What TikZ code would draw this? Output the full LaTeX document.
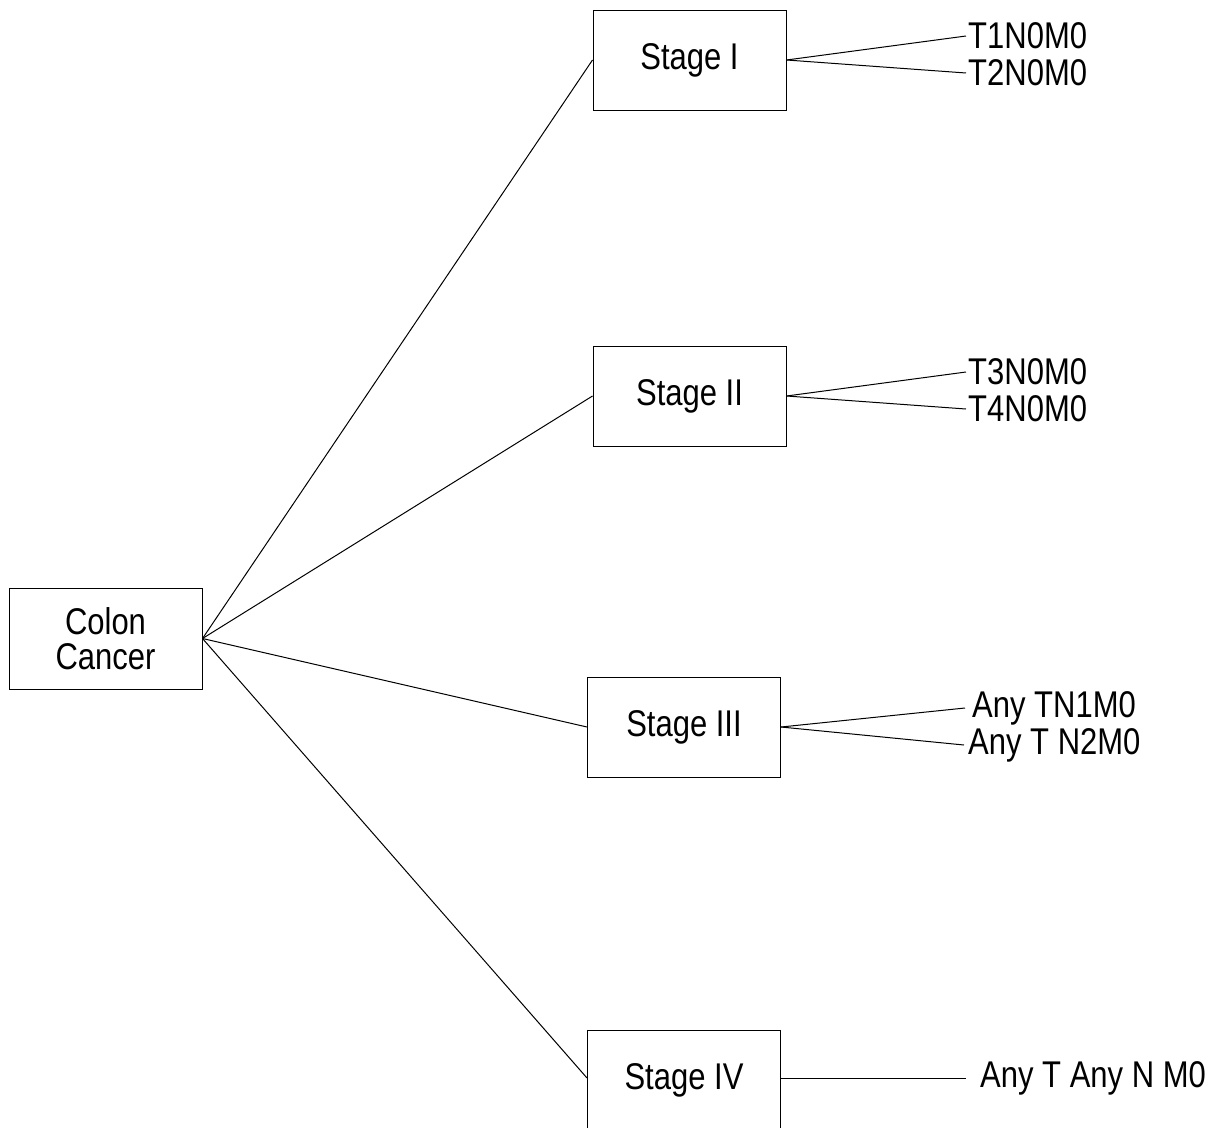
\documentclass[tikz,border=0pt]{standalone}
\usepackage{fontspec}
\setmainfont{Liberation Sans}
\usepackage{tikz}
\usetikzlibrary{positioning}
\tikzstyle{stagebox} = [draw, rectangle, line width=1pt, minimum width=193pt,
minimum height=100pt, align=center]
\tikzstyle{line} = [draw, line width=1pt]
\tikzstyle{leaf} = [inner sep=2pt, anchor=west]
\newcommand{\tall}[1]{\scalebox{1}[1.2]{#1}}

\begin{document}
\begin{tikzpicture}[x=1pt, y=-1pt,
	font=\fontsize{31}{35}\selectfont]
	\useasboundingbox (0,0) rectangle (1214,1127);
    \node [stagebox, minimum height=101pt] (CC) at (105.5,638.5) {\tall{Colon}\\\tall{Cancer}};
    \node [stagebox] (S1) at (689.5,60) {\tall{Stage I}};
    \node [stagebox] (S2) at (689.5,396) {\tall{Stage II}};
    \node [stagebox] (S3) at (684,727) {\tall{Stage III}};
    \node [stagebox] (S4) at (684,1080) {\tall{Stage IV}};
    \node [leaf] (L1a) at (966,36) {\tall{T1N0M0}};
    \node [leaf] (L1b) at (966,73) {\tall{T2N0M0}};
    \node [leaf] (L2a) at (966,372) {\tall{T3N0M0}};
    \node [leaf] (L2b) at (966,409) {\tall{T4N0M0}};
    \node [leaf, inner xsep=7pt] (L3a) at (965,708) {\tall{Any TN1M0}};
    \node [leaf, inner xsep=4pt] (L3b) at (964,745) {\tall{Any T N2M0}};
    \node [leaf, inner xsep=14pt] (L4) at (966,1078) {\tall{Any T Any N M0}};
	%% Stages
	\path [line] (CC.east) -- (S1.west);
	\path [line] (CC.east) -- (S2.west);
	\path [line] (CC.east) -- (S3.west);
	\path [line] (CC.east) -- ([yshift=2pt]S4.west);
	%% TNM groups
	\path [line] (S1.east) -- (L1a.west);
	\path [line] (S1.east) -- (L1b.west);
	\path [line] (S2.east) -- (L2a.west);
	\path [line] (S2.east) -- (L2b.west);
	\path [line] (S3.east) -- (L3a.west);
	\path [line] (S3.east) -- (L3b.west);
	\path [line] ([yshift=2pt]S4.east) -- (L4.west);
\end{tikzpicture}
\end{document}
